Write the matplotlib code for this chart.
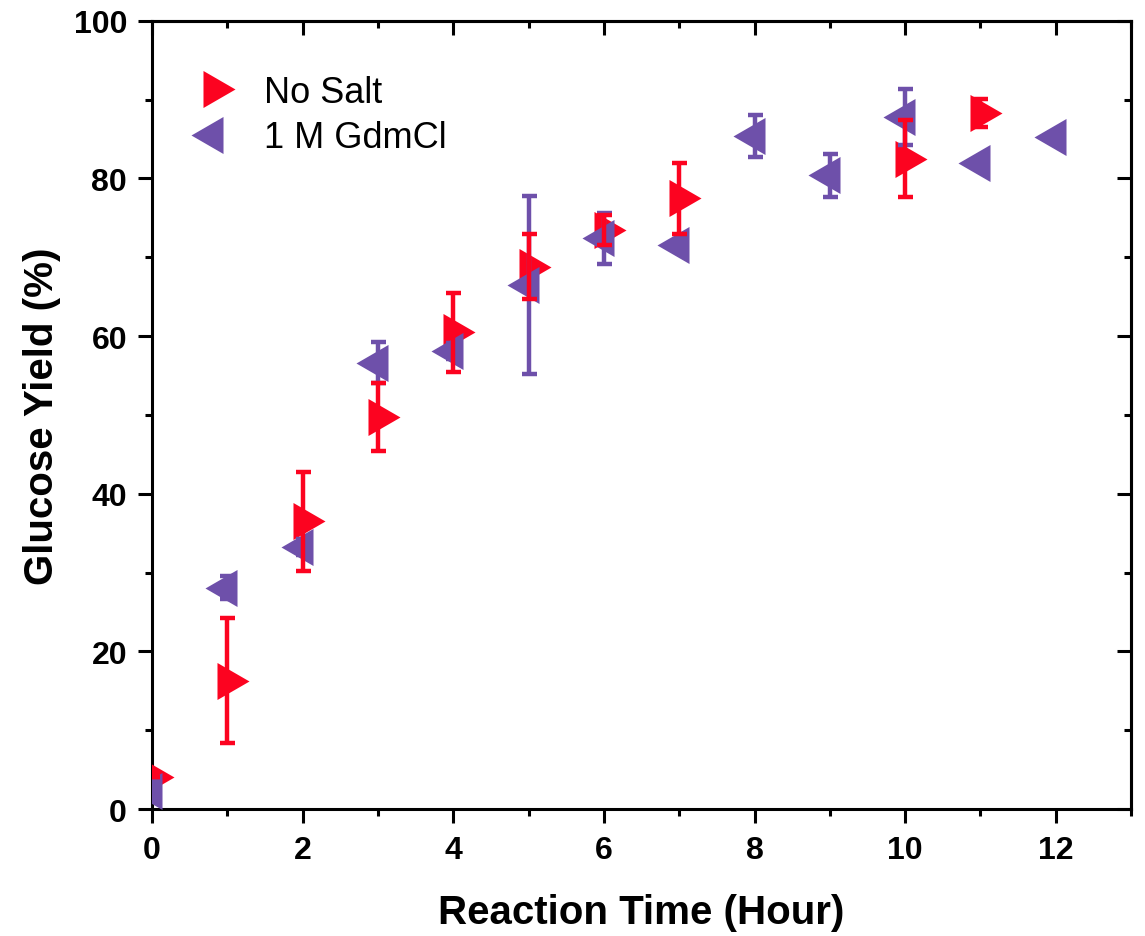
import numpy as np
import matplotlib
matplotlib.use("Agg")
import matplotlib.pyplot as plt
from matplotlib.ticker import MultipleLocator, NullFormatter
from matplotlib.lines import Line2D

# Data
no_salt_time = [0, 1, 2, 3, 4, 5, 6, 7, 10, 11]
no_salt_yield = [4.1, 16.3, 36.5, 49.7, 60.5, 68.8, 73.5, 77.5, 82.5, 88.3]
no_salt_err = [0.0, 7.9, 6.3, 4.3, 5.0, 4.1, 1.9, 4.5, 4.9, 1.8]

gdmcl_time = [0, 1, 2, 3, 4, 5, 6, 7, 8, 9, 10, 11, 12]
gdmcl_yield = [2.3, 28.1, 33.2, 56.6, 58.1, 66.5, 72.4, 71.5, 85.4, 80.4, 87.8, 81.9, 85.2]
gdmcl_err = [0.0, 1.4, 1.0, 2.6, 1.0, 11.3, 3.2, 0.0, 2.7, 2.7, 3.6, 0.0, 0.0]

RED = "#FC0320"
PURPLE = "#6E50AA"

plt.rcParams['font.family'] = ['Liberation Sans', 'DejaVu Sans']

# triangles centred on their centroid, like the original software does
right_tri = [(-10, -18.5), (22, 0), (-10, 18.5)]
left_tri = [(10, -18.5), (-22, 0), (10, 18.5)]
MS = 31.7

fig = plt.figure(figsize=(11.45, 9.37), dpi=100)
ax = fig.add_axes([0.1328, 0.1355, 0.9878 - 0.1328, 0.9768 - 0.1355])

ax.plot(no_salt_time, no_salt_yield, linestyle='none', marker=right_tri,
        ms=MS, mew=0, color=RED, zorder=3)
ax.plot(gdmcl_time, gdmcl_yield, linestyle='none', marker=left_tri,
        ms=MS, mew=0, color=PURPLE, zorder=4)
ax.errorbar(gdmcl_time, gdmcl_yield, yerr=gdmcl_err, fmt='none', ecolor=PURPLE,
            elinewidth=3.2, capsize=5.4, capthick=3.2, zorder=5)
ax.errorbar(no_salt_time, no_salt_yield, yerr=no_salt_err, fmt='none', ecolor=RED,
            elinewidth=3.2, capsize=5.4, capthick=3.2, zorder=6)

ax.set_xlim(0, 13)
ax.set_ylim(0, 100)

ax.xaxis.set_major_locator(MultipleLocator(2))
ax.xaxis.set_minor_locator(MultipleLocator(1))
ax.yaxis.set_major_locator(MultipleLocator(20))
ax.yaxis.set_minor_locator(MultipleLocator(10))

for s in ax.spines.values():
    s.set_linewidth(2.2)

ax.tick_params(which='both', direction='out', width=2.2, top=False, right=False)
ax.tick_params(which='major', length=10)
ax.tick_params(which='minor', length=5)
ax.tick_params(axis='x', which='major', pad=9, labelsize=23)
ax.tick_params(axis='y', which='major', pad=8, labelsize=23)
for lab in ax.get_xticklabels() + ax.get_yticklabels():
    lab.set_fontweight('bold')

# top and right ticks point inward
top = ax.secondary_xaxis('top')
top.xaxis.set_major_locator(MultipleLocator(2))
top.xaxis.set_minor_locator(MultipleLocator(1))
top.xaxis.set_major_formatter(NullFormatter())
top.tick_params(which='both', direction='in', width=2.2)
top.tick_params(which='major', length=10)
top.tick_params(which='minor', length=5)
top.spines['top'].set_linewidth(2.2)

right = ax.secondary_yaxis('right')
right.yaxis.set_major_locator(MultipleLocator(20))
right.yaxis.set_minor_locator(MultipleLocator(10))
right.yaxis.set_major_formatter(NullFormatter())
right.tick_params(which='both', direction='in', width=2.2)
right.tick_params(which='major', length=10)
right.tick_params(which='minor', length=5)
right.spines['right'].set_linewidth(2.2)

ax.set_xlabel('Reaction Time (Hour)', fontsize=29, fontweight='bold', labelpad=20)
ax.set_ylabel('Glucose Yield (%)', fontsize=29, fontweight='bold', labelpad=9)

handles = [
    Line2D([], [], linestyle='none', marker=right_tri, ms=MS, mew=0, color=RED),
    Line2D([], [], linestyle='none', marker=left_tri, ms=MS, mew=0, color=PURPLE),
]
ax.legend(handles, ['No Salt', '1 M GdmCl'], loc='upper left',
          bbox_to_anchor=(0.022, 0.95), frameon=False, fontsize=26,
          handlelength=1.4, handletextpad=0.7, labelspacing=0.3,
          borderaxespad=0.0)

fig.savefig('out.png', dpi=100)
